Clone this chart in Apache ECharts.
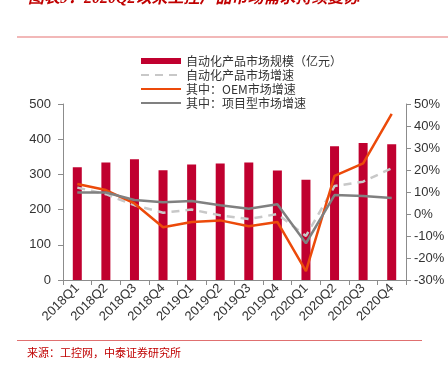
<!DOCTYPE html>
<html>
<head>
<meta charset="utf-8">
<script src="https://cdn.jsdelivr.net/npm/echarts@6/dist/echarts.min.js"></script>
<style>
html,body{margin:0;padding:0;background:#fff;}
#main{width:448px;height:366px;}
</style>
</head>
<body>
<div id="main"></div>
<script>
// 季度
var quarters = ['2018Q1','2018Q2','2018Q3','2018Q4','2019Q1','2019Q2','2019Q3','2019Q4','2020Q1','2020Q2','2020Q3','2020Q4'];
// 自动化产品市场规模（亿元）
var marketSize = [320, 334, 343, 312, 328, 331, 334, 311, 285, 380, 389, 386];
// 自动化产品市场增速 %
var marketGrowth = [12, 9, 4, 0.6, 2, -0.6, -2.3, 0, -10, 12.7, 14.7, 20.8];
// 其中：OEM市场增速 %
var oemGrowth = [13.6, 10.9, 4.8, -6, -3.6, -2.9, -5.6, -3.6, -26, 17.3, 23, 45.5];
// 其中：项目型市场增速 %
var projGrowth = [9.8, 9.8, 6.4, 5.3, 5.9, 4, 2.4, 4.4, -13.3, 8.6, 8.2, 7.3];

var red = '#c0002f';
var axisColor = '#8c8c8c';
var txtFont = 'Liberation Sans, Arial, sans-serif';

var chart = echarts.init(document.getElementById('main'));
var option = {
	animation: false,
	backgroundColor: '#fff',
	grid: {
		left: 63,
		right: 42,
		top: 104,
		bottom: 86
	},
	legend: {
		orient: 'vertical',
		left: 135,
		top: 50,
		itemWidth: 40,
		itemHeight: 6,
		itemGap: 2,
		textStyle: {
			fontSize: 12,
			color: '#333',
			fontFamily: 'Noto Sans CJK SC',
			lineHeight: 12
		},
		data: [
			{ name: '自动化产品市场规模（亿元）', icon: 'rect' },
			{ name: '自动化产品市场增速', itemStyle: { opacity: 0 } },
			{ name: '其中：OEM市场增速', itemStyle: { opacity: 0 } },
			{ name: '其中：项目型市场增速', itemStyle: { opacity: 0 } }
		]
	},
	xAxis: {
		type: 'category',
		data: quarters,
		axisLine: { lineStyle: { color: axisColor } },
		axisTick: { show: true, lineStyle: { color: axisColor } },
		axisLabel: {
			rotate: 45,
			interval: 0,
			fontSize: 13,
			color: '#333',
			fontFamily: txtFont,
			margin: 6
		}
	},
	yAxis: [
		{
			type: 'value',
			min: 0,
			max: 500,
			interval: 100,
			splitLine: { show: false },
			axisLine: { show: true, lineStyle: { color: axisColor } },
			axisTick: { show: true, lineStyle: { color: axisColor } },
			axisLabel: { fontSize: 13, color: '#333', fontFamily: txtFont, margin: 12 }
		},
		{
			type: 'value',
			min: -30,
			max: 50,
			interval: 10,
			splitLine: { show: false },
			axisLine: { show: true, lineStyle: { color: axisColor } },
			axisTick: { show: true, lineStyle: { color: axisColor } },
			axisLabel: { formatter: '{value}%', fontSize: 13, color: '#333', fontFamily: txtFont, margin: 8 }
		}
	],
	series: [
		{
			name: '自动化产品市场规模（亿元）',
			type: 'bar',
			data: marketSize,
			barWidth: 9,
			itemStyle: { color: red }
		},
		{
			name: '自动化产品市场增速',
			type: 'line',
			yAxisIndex: 1,
			data: marketGrowth,
			symbol: 'none',
			lineStyle: { color: '#c8c8c8', width: 2.5, type: [8, 6] },
			itemStyle: { color: '#c8c8c8' }
		},
		{
			name: '其中：OEM市场增速',
			type: 'line',
			yAxisIndex: 1,
			data: oemGrowth,
			symbol: 'none',
			lineStyle: { color: '#ec4a0a', width: 2.5 },
			itemStyle: { color: '#ec4a0a' }
		},
		{
			name: '其中：项目型市场增速',
			type: 'line',
			yAxisIndex: 1,
			data: projGrowth,
			symbol: 'none',
			lineStyle: { color: '#808080', width: 2.5 },
			itemStyle: { color: '#808080' }
		}
	],
	graphic: [
		{
			type: 'text',
			left: 28,
			top: -9,
			style: {
				text: '图表9：2020Q2以来工控产品市场需求持续复苏',
				font: 'italic bold 16px "Liberation Serif", "Noto Sans CJK SC"',
				fill: '#c00000'
			}
		},
		{
			type: 'rect',
			shape: { x: 17, y: 36, width: 431, height: 2 },
			style: { fill: '#f2b8b8' }
		},
		{
			type: 'rect',
			shape: { x: 17, y: 340, width: 405, height: 1 },
			style: { fill: '#e07070' }
		},
		{
			type: 'text',
			left: 27,
			top: 347,
			style: {
				text: '来源：工控网，中泰证券研究所',
				font: '11px "Noto Sans CJK SC"',
				fill: '#c00000'
			}
		}
	]
};
chart.setOption(option);
</script>
</body>
</html>
